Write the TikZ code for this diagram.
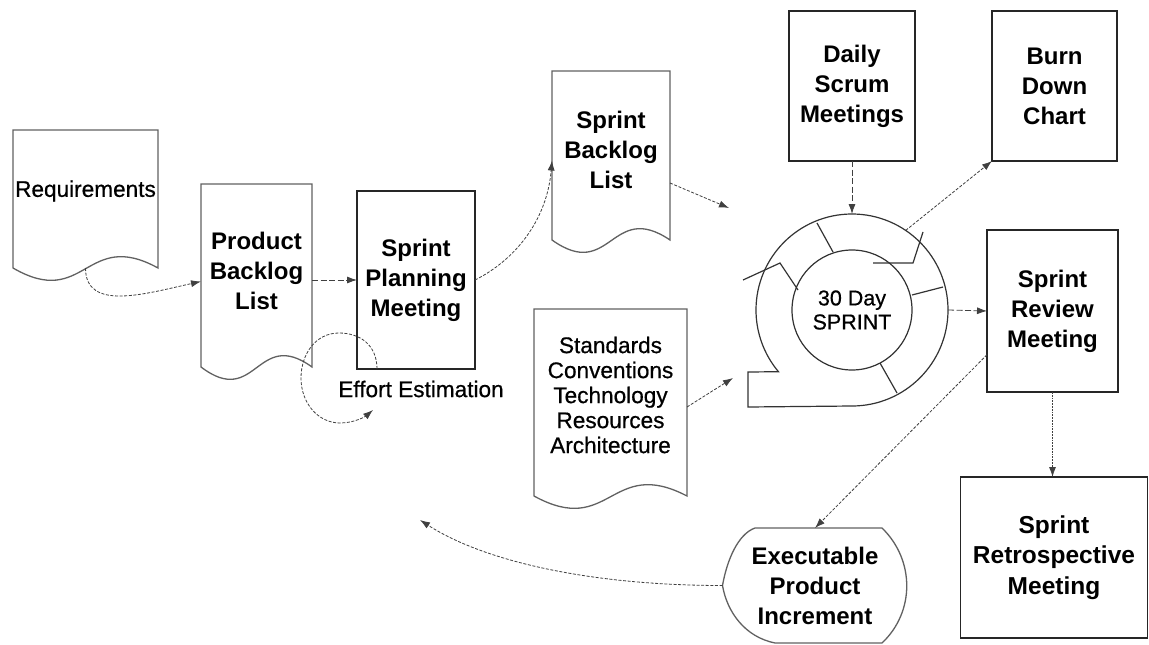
\documentclass[tikz,border=0pt]{standalone}
\usepackage{fontspec}
\setmainfont{Liberation Sans}
\newfontfamily\medfont[FakeBold=0.6]{Liberation Sans}
\usetikzlibrary{arrows.meta,calc}
\newcommand{\mydocoutline}[1]{%
  \draw[docline] (#1.south west) -- (#1.north west) -- (#1.north east) -- (#1.south east)
    .. controls ($(#1.south)+(0,-40)$) and ($(#1.south)+(0,42)$) .. (#1.south west) -- cycle;}
\begin{document}
\begin{tikzpicture}[x=1pt,y=-1pt,
  box/.style={draw=black!85, line width=1.3pt, align=center, inner sep=0pt, outer sep=0pt,
              font=\fontsize{24}{30}\selectfont\bfseries},
  docnode/.style={inner sep=0pt, outer sep=0pt},
  docline/.style={draw=black!62, line width=1.3pt, line join=miter},
  boldtext/.style={font=\fontsize{24}{30}\selectfont\bfseries, align=center},
  regtext/.style={font=\medfont\fontsize{22.6}{25}\selectfont, align=center},
  conn/.style={draw=black!75, line width=0.8pt, dash pattern=on 3pt off 1.6pt,
               -{Latex[length=10pt,width=7pt]}},
  connlong/.style={conn, dash pattern=on 6pt off 2.5pt},
  connfine/.style={conn, dash pattern=on 1.8pt off 1pt},
  ringline/.style={draw=black!80, line width=1.2pt},
]
\useasboundingbox[fill=white] (0,0) rectangle (1149,645);

% document shapes
\node[docnode, minimum width=145pt, minimum height=138pt,
      label={[regtext, yshift=8pt]center:Requirements}] (req) at (85.5,199) {};
\node[docnode, minimum width=111pt, minimum height=183pt,
      label={[boldtext, yshift=4.5pt]center:{Product\\Backlog\\List}}] (pbl) at (256.5,275.5) {};
\node[docnode, minimum width=118pt, minimum height=169pt,
      label={[boldtext, yshift=5.5pt]center:{Sprint\\Backlog\\List}}] (sbl) at (611,155.5) {};
\node[docnode, minimum width=153pt, minimum height=187pt,
      label={[regtext, yshift=7.5pt]center:{Standards\\Conventions\\Technology\\Resources\\Architecture}}] (std) at (610.5,402.5) {};
\mydocoutline{req}
\mydocoutline{pbl}
\mydocoutline{sbl}
\mydocoutline{std}

% boxes
\node[box, minimum width=118pt, minimum height=178pt] (spm) at (416,280) {Sprint\\Planning\\Meeting};
\node[box, minimum width=126pt, minimum height=150pt] (daily) at (852,86) {Daily\\Scrum\\Meetings};
\node[box, minimum width=125pt, minimum height=150pt] (burn) at (1054.5,86) {Burn\\Down\\Chart};
\node[box, minimum width=131pt, minimum height=162pt] (review) at (1052.5,311) {Sprint\\Review\\Meeting};
\node[box, minimum width=187pt, minimum height=161pt, font=\fontsize{24.5}{30.5}\selectfont\bfseries]
     (retro) at (1054,557.5) {Sprint\\Retrospective\\Meeting};

% executable product increment (display shape)
\node[docnode, minimum width=185pt, minimum height=115pt, boldtext] (exec) at (815,585.5)
     {Executable\\Product\\Increment};
\draw[docline] (755,528) -- (882,528) .. controls (915,560) and (915,612) .. (882,643)
   -- (775,643) .. controls (745,637) and (727,612) .. (722.5,585.5)
   .. controls (727,560) and (738,534) .. (755,528) -- cycle;

\node[regtext] (effort) at (421,389) {Effort Estimation};

% sprint cycle
\node[circle, minimum size=192pt, inner sep=0pt, outer sep=0pt] (ring) at (852,310) {};
\node[circle, draw=black!80, line width=1.2pt, minimum size=120pt, inner sep=0pt, outer sep=0pt,
      font=\medfont\fontsize{21.5}{24}\selectfont, align=center] (sprint) at (852,310) {30 Day\\SPRINT};
\draw[ringline] (ring.south) arc[start angle=-90, end angle=220, radius=96pt]
   -- (748,372) -- (748,407) -- (ring.south);
\draw[ringline] (817,223) -- (833,252);
\draw[ringline] (912,295) -- (943,287);
\draw[ringline] (880,363) -- (897,393);
\draw[ringline] (743,280) -- (780,263) -- (798,290);
\draw[ringline] (873,263) -- (913,263) -- (923,232);

% free ends
\coordinate (effarr) at (373,410);
\coordinate (sblarr) at (729,208);
\coordinate (stdarr) at (733,378);
\coordinate (backarr) at (420,520);

% connectors
\draw[conn] (req.south) .. controls +(0,44) and +(-55,12) .. ([yshift=-6pt]pbl.west);
\draw[connlong] (pbl.east |- spm.west) -- (spm.west);
\draw[conn] ([xshift=20pt]spm.south west) .. controls +(0,-24) and (360,333) .. (339,333)
   .. controls (315,333) and (301,355) .. (301,378)
   .. controls (301,403) and (318,423) .. (340,423)
   .. controls (355,423) and (366,416) .. (effarr);
\draw[conn] (spm.east) .. controls +(40,-20) and +(-5,60) .. ([yshift=-5pt]sbl.west);
\draw[conn] ([yshift=-27.5pt]sbl.east) -- (sblarr);
\draw[conn] ([yshift=-4.5pt]std.east) -- (stdarr);
\draw[connlong] (daily.south) -- (ring.north);
\draw[conn] (ring.56) -- (burn.south west);
\draw[connlong] (ring.east) -- (review.west);
\draw[conn] ($(review.north west)!0.77!(review.south west)$) -- (exec.north);
\draw[connfine] (review.south) -- (review.south |- retro.north);
\draw[conn] (exec.west) .. controls +(-130,0) and +(65,42) .. (backarr);
\end{tikzpicture}
\end{document}
